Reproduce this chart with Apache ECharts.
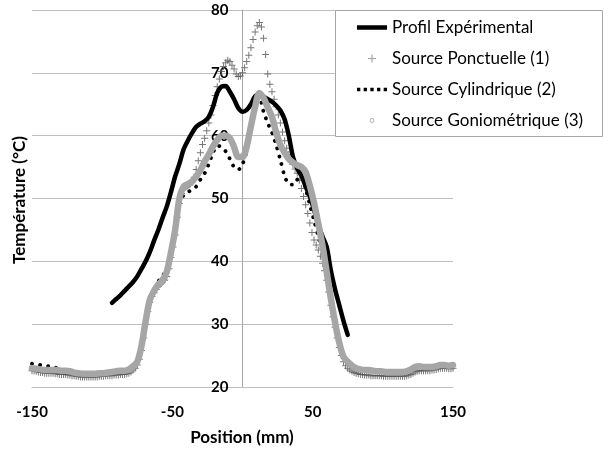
<!DOCTYPE html>
<html><head><meta charset="utf-8">
<script src="https://cdn.jsdelivr.net/npm/echarts@6/dist/echarts.min.js"></script>
<style>html,body{margin:0;padding:0;background:#fff}#c{width:603px;height:450px}</style>
</head><body><div id="c"></div>
<script>
// Position (mm) sampling for simulated profiles
var positions = [-150,-147,-144,-141,-138,-135,-132,-129,-126,-123,-120,-117,-114,-111,-108,-105,-102,-99,-96,-93,-90,-87,-84,-81,-78,-75,-72,-69,-66,-63,-60,-57,-54,-51,-48,-45,-42,-39,-36,-33,-30,-27,-24,-21,-18,-15,-12,-9,-6,-3,0,3,6,9,12,15,18,21,24,27,30,33,36,39,42,45,48,51,54,57,60,63,66,69,72,75,78,81,84,87,90,93,96,99,102,105,108,111,114,117,120,123,126,129,132,135,138,141,144,147,150];
// Point-source samples (denser)
var ponctPositions = [-150,-148.5,-147,-145.5,-144,-142.5,-141,-139.5,-138,-136.5,-135,-133.5,-132,-130.5,-129,-127.5,-126,-124.5,-123,-121.5,-120,-118.5,-117,-115.5,-114,-112.5,-111,-109.5,-108,-106.5,-105,-103.5,-102,-100.5,-99,-97.5,-96,-94.5,-93,-91.5,-90,-88.5,-87,-85.5,-84,-82.5,-81,-79.5,-78,-76.5,-75,-73.5,-72,-70.5,-69,-67.5,-66,-64.5,-63,-61.5,-60,-58.5,-57,-55.5,-54,-52.5,-51,-49.5,-48,-46.5,-45,-43.5,-42,-40.5,-39,-37.5,-36,-34.5,-33,-31.5,-30,-28.5,-27,-25.5,-24,-22.5,-21,-19.5,-18,-16.5,-15,-13.5,-12,-10.5,-9,-7.5,-6,-4.5,-3,-1.5,0,1.5,3,4.5,6,7.5,9,10.5,12,13.5,15,16.5,18,19.5,21,22.5,24,25.5,27,28.5,30,31.5,33,34.5,36,37.5,39,40.5,42,43.5,45,46.5,48,49.5,51,52.5,54,55.5,57,58.5,60,61.5,63,64.5,66,67.5,69,70.5,72,73.5,75,76.5,78,79.5,81,82.5,84,85.5,87,88.5,90,91.5,93,94.5,96,97.5,99,100.5,102,103.5,105,106.5,108,109.5,111,112.5,114,115.5,117,118.5,120,121.5,123,124.5,126,127.5,129,130.5,132,133.5,135,136.5,138,139.5,141,142.5,144,145.5,147,148.5,150];
// Measured profile positions
var expPositions = [-93,-90,-87,-84,-81,-78,-75,-72,-69,-66,-63,-60,-57,-54,-51,-48,-45,-42,-39,-36,-33,-30,-27,-24,-21,-18,-15,-12,-9,-6,-3,0,3,6,9,12,15,18,21,24,27,30,33,36,39,42,45,48,51,54,57,60,63,66,69,72,75];
var profilExperimental = [33.4,34.0,34.6,35.3,36.0,36.7,37.6,38.8,40.0,41.5,43.3,45.0,46.9,48.7,51.0,53.5,55.5,57.8,59.2,60.4,61.4,61.9,62.3,63.0,64.6,66.8,67.8,67.9,67.0,65.8,64.4,63.8,64.1,65.0,66.3,66.6,66.2,65.8,65.4,64.8,64.0,62.6,60.0,56.6,54.8,53.6,51.9,50.3,48.2,45.8,44.0,42.3,38.5,35.5,33.0,30.5,28.3];
var sourcePonctuelle = [22.6,22.6,22.5,22.4,22.3,22.3,22.2,22.2,22.2,22.2,22.2,22.1,22.1,22.0,22.0,22.0,22.0,21.9,21.9,21.8,21.8,21.7,21.7,21.6,21.6,21.6,21.6,21.6,21.6,21.6,21.6,21.6,21.7,21.7,21.7,21.8,21.8,21.8,21.8,21.9,21.9,21.9,22.0,22.0,22.0,22.1,22.2,22.4,22.7,23.0,23.5,24.4,25.8,27.8,30.0,32.0,33.5,34.4,35.0,35.5,36.0,36.4,36.7,37.0,37.6,38.8,40.6,42.3,44.2,47.0,49.2,50.8,51.5,51.8,52.0,52.2,52.6,53.4,54.6,56.0,57.3,58.6,59.6,60.8,62.0,63.3,64.8,66.4,67.8,69.0,70.2,71.0,71.6,72.0,71.8,71.2,70.6,69.8,69.4,69.5,70.0,70.8,71.8,72.8,74.0,75.3,76.5,77.5,78.0,77.3,75.5,72.9,69.8,68.2,67.0,65.8,64.6,63.3,62.0,60.6,59.2,58.0,57.0,56.2,55.4,54.7,54.0,52.9,51.6,50.3,49.0,47.6,46.1,44.6,43.4,42.6,41.8,40.8,39.7,38.5,37.0,35.1,33.0,31.2,29.5,27.8,26.3,25.0,24.0,23.4,23.0,22.7,22.5,22.3,22.2,22.1,22.0,22.0,21.9,21.9,21.9,21.8,21.8,21.8,21.8,21.8,21.8,21.7,21.7,21.7,21.7,21.7,21.7,21.7,21.7,21.7,21.7,21.7,21.8,21.9,22.0,22.2,22.4,22.5,22.6,22.6,22.6,22.6,22.6,22.6,22.7,22.7,22.8,22.9,23.0,23.0,23.0,23.0,22.9,22.9,23.0];
var sourceCylindrique = [23.7,23.6,23.5,23.4,23.3,23.2,23.0,22.8,22.6,22.5,22.3,22.2,22.1,22.1,22.1,22.1,22.2,22.2,22.3,22.4,22.5,22.6,22.6,22.8,23.3,24.1,26.7,30.7,34.2,35.6,36.8,37.6,39.0,41.8,45.3,49.5,50.5,51.0,51.4,51.9,53.0,54.0,55.5,57.3,58.4,58.2,57.5,56.3,55.0,54.6,55.5,57.5,61.5,65.5,66.0,63.8,62.0,60.5,58.5,56.1,53.6,52.3,52.2,53.0,53.6,51.5,49.0,46.5,44.0,41.5,38.3,34.8,31.0,27.3,25.0,24.0,23.4,23.0,22.8,22.7,22.7,22.6,22.5,22.5,22.4,22.4,22.4,22.4,22.4,22.5,22.8,23.2,23.3,23.2,23.2,23.2,23.3,23.5,23.5,23.4,23.5];
var sourceGoniometrique = [23.0,22.9,22.8,22.7,22.7,22.7,22.7,22.6,22.6,22.5,22.3,22.2,22.1,22.1,22.1,22.1,22.2,22.2,22.3,22.4,22.5,22.6,22.6,22.8,23.3,24.0,26.5,30.5,33.9,35.3,36.3,37.0,38.3,41.4,45.0,50.0,51.9,52.3,52.7,53.5,54.5,55.9,57.0,58.3,59.3,60.0,60.0,59.6,58.2,56.6,56.6,58.3,61.5,64.6,66.8,66.0,64.5,63.0,60.5,58.5,57.3,56.3,55.7,55.3,55.0,54.2,52.0,49.3,46.0,42.5,38.3,34.0,30.2,27.0,24.8,24.0,23.4,23.0,22.8,22.7,22.7,22.6,22.5,22.5,22.4,22.4,22.4,22.4,22.4,22.5,22.8,23.2,23.3,23.2,23.2,23.2,23.3,23.5,23.5,23.4,23.5];
var seriesNames = ['Profil Expérimental','Source Ponctuelle (1)','Source Cylindrique (2)','Source Goniométrique (3)'];
var xTicks = [-150,-50,50,150];
var yTicks = [20,30,40,50,60,70,80];

function zip(xs, ys){ return xs.map(function(x,i){ return [x, ys[i]]; }); }
var FONT = 'Lato, "Open Sans", sans-serif';
var plusPath = 'path://M3,0h1v3h3v1h-3v3h-1v-3h-3v-1h3z';
var GRID_L = 32, GRID_R = 150;
var plotW = 603 - GRID_L - GRID_R;
var yAxisOffset = -plotW * (0 - xTicks[0]) / (xTicks[xTicks.length-1] - xTicks[0]);

var chart = echarts.init(document.getElementById('c'), null, {renderer:'canvas'});
chart.setOption({
  animation:false,
  backgroundColor:'#fff',
  grid:{left:GRID_L,right:GRID_R,top:10,bottom:63,containLabel:false},
  xAxis:{type:'value',min:xTicks[0],max:xTicks[xTicks.length-1],interval:100,
    axisLine:{show:true,lineStyle:{color:'#bfbfbf',width:1}},axisTick:{show:false},splitLine:{show:false},
    axisLabel:{margin:18,fontFamily:FONT,fontWeight:'bold',fontSize:15,color:'#000'}},
  yAxis:{type:'value',position:'left',offset:yAxisOffset,min:yTicks[0],max:yTicks[yTicks.length-1],interval:10,
    axisLine:{show:true,onZero:false,lineStyle:{color:'#a6a6a6',width:1}},axisTick:{show:false},
    splitLine:{show:true,lineStyle:{color:'#bfbfbf',width:1}},
    axisLabel:{margin:14,fontFamily:FONT,fontWeight:'bold',fontSize:15,color:'#000'}},
  legend:{orient:'vertical',left:352,top:14,itemWidth:30,itemHeight:8,itemGap:14,
    textStyle:{fontFamily:FONT,fontSize:17,color:'#000'},
    data:[
      {name:seriesNames[0],icon:'path://M0,0h30v4.5h-30z'},
      {name:seriesNames[1],icon:plusPath,itemStyle:{color:'#8c8c8c'}},
      {name:seriesNames[2],icon:'path://M0,0h3v3h-3zM6,0h3v3h-3zM12,0h3v3h-3zM18,0h3v3h-3zM24,0h3v3h-3z'},
      {name:seriesNames[3],icon:'path://M5,2a3,3 0 1,0 0.001,0zM5,3.2a1.8,1.8 0 1,1 -0.001,0zM0,0h0.01v0.01h-0.01zM9.99,9.99h0.01v0.01h-0.01z',itemStyle:{color:'#b0b0b0'}}
    ]},
  graphic:{elements:[
    {type:'rect',left:335,top:10,z:3,shape:{width:267,height:126},style:{fill:'#fff',stroke:'#a6a6a6',lineWidth:1}},
    {type:'text',x:242,y:438,z:5,style:{text:'Position (mm)',fontFamily:FONT,fontWeight:'bold',fontSize:17,fill:'#000',textAlign:'center',textVerticalAlign:'middle'}},
    {type:'text',x:20,y:200,rotation:Math.PI/2,z:5,style:{text:'Température (°C)',fontFamily:FONT,fontWeight:'bold',fontSize:17,fill:'#000',textAlign:'center',textVerticalAlign:'middle'}}
  ]},
  series:[
    {name:seriesNames[0],type:'line',data:zip(expPositions,profilExperimental),showSymbol:false,symbol:'none',smooth:0.3,
      lineStyle:{color:'#000',width:4.5,cap:'round',join:'round'},itemStyle:{color:'#000'}},
    {name:seriesNames[1],type:'scatter',data:zip(ponctPositions,sourcePonctuelle),symbol:plusPath,symbolSize:7,
      itemStyle:{color:'#555'}},
    {name:seriesNames[2],type:'line',data:zip(positions,sourceCylindrique),showSymbol:false,symbol:'none',smooth:0.3,
      lineStyle:{color:'#000',width:3.8,type:[0.1,8],cap:'round'},itemStyle:{color:'#000'}},
    {name:seriesNames[3],type:'line',data:zip(positions,sourceGoniometrique),showSymbol:false,symbol:'emptyCircle',smooth:0.3,
      lineStyle:{color:'#a6a6a6',width:6.5,cap:'round',join:'round'},itemStyle:{color:'#a6a6a6'}}
  ]
});
</script></body></html>
